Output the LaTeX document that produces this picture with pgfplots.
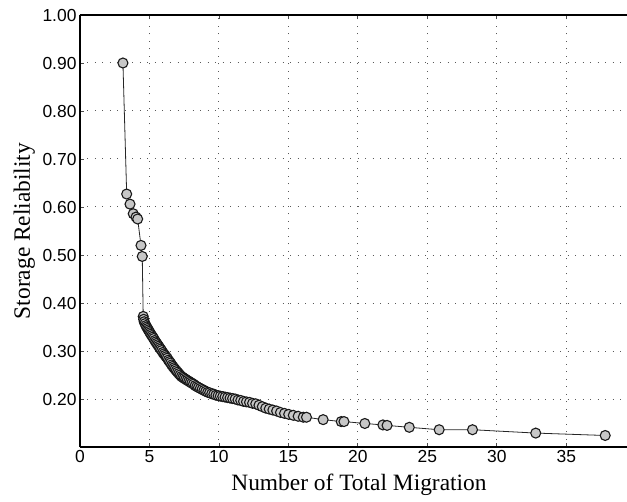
\documentclass[border=0pt]{standalone}
\usepackage{fontspec}
\setmainfont{Liberation Serif}
\newfontfamily\arialfont{Liberation Sans}
\usepackage{pgfplots}
\pgfplotsset{compat=1.18}
\begin{document}
\begin{tikzpicture}
\begin{axis}[
  scale only axis, width=547bp, height=432bp,
  xmin=0, xmax=39.37, ymin=0.1, ymax=1.0,
  axis x line=box, axis y line=left,
  axis line style={-, line width=1.4bp, black},
  xtick={0,5,10,15,20,25,30,35},
  ytick={0.2,0.3,0.4,0.5,0.6,0.7,0.8,0.9,1.0},
  tick align=inside, major tick length=4bp,
  tick style={line width=0.8bp, black!70},
  yticklabel style={/pgf/number format/fixed, /pgf/number format/fixed zerofill, /pgf/number format/precision=2},
  /pgf/number format/assume math mode=true,
  ticklabel style={font=\arialfont\fontsize{17.5}{17.5}\selectfont},
  grid=major,
  major grid style={black!65, dash pattern=on 1bp off 6.5bp, line width=1bp},
  xlabel={Number of Total Migration},
  ylabel={Storage Reliability},
  label style={font=\fontsize{23.5}{24}\selectfont},
  xlabel style={at={(axis description cs:0.51,0)}, anchor=base, yshift=-43bp},
  ylabel style={at={([xshift=-50bp]axis description cs:0,0.5)}, anchor=base},
]
\addplot[color=black!85, line width=0.8bp, mark=*, mark size=5bp,
  mark options={fill=black!22, draw=black!90, line width=1.1bp, solid}] coordinates {
(3.09,0.900) (3.36,0.627) (3.60,0.606) (3.83,0.586) (4.03,0.579) (4.15,0.575)
(4.39,0.520) (4.48,0.497)
(4.55,0.372) (4.58,0.366) (4.62,0.361) (4.68,0.357) (4.74,0.353) (4.80,0.350)
(4.86,0.347) (4.92,0.344) (4.98,0.341) (5.04,0.338) (5.10,0.335) (5.17,0.332)
(5.24,0.329) (5.31,0.326) (5.38,0.322) (5.45,0.319) (5.52,0.316) (5.59,0.313)
(5.66,0.310) (5.73,0.307) (5.80,0.304) (5.88,0.301) (5.96,0.297) (6.04,0.294)
(6.12,0.291) (6.20,0.288) (6.28,0.285) (6.36,0.281) (6.44,0.278) (6.52,0.275)
(6.60,0.271) (6.68,0.268) (6.76,0.265) (6.84,0.262) (6.93,0.259) (7.02,0.256)
(7.11,0.253) (7.20,0.250) (7.30,0.247) (7.40,0.245) (7.50,0.243) (7.61,0.241)
(7.72,0.239) (7.83,0.237) (7.94,0.235) (8.05,0.233) (8.17,0.231) (8.29,0.228)
(8.41,0.226) (8.53,0.224) (8.66,0.222) (8.79,0.220) (8.92,0.218) (9.05,0.216)
(9.19,0.214) (9.33,0.213) (9.48,0.211) (9.63,0.210) (9.78,0.208) (9.94,0.207)
(10.10,0.206) (10.27,0.205) (10.44,0.204) (10.62,0.203) (10.80,0.202) (10.98,0.201)
(11.17,0.200) (11.37,0.198) (11.57,0.197) (11.77,0.195) (11.98,0.194) (12.20,0.193)
(12.42,0.191) (12.65,0.190) (12.88,0.187) (13.12,0.184) (13.37,0.181) (13.62,0.179)
(13.88,0.177) (14.15,0.175) (14.43,0.172) (14.72,0.170) (15.02,0.168) (15.35,0.166)
(15.70,0.164) (16.07,0.162) (16.30,0.162) (17.50,0.157) (18.80,0.153) (19.00,0.153)
(20.50,0.149) (21.80,0.146) (22.10,0.145) (23.70,0.141) (25.85,0.136) (28.25,0.136)
(32.80,0.129) (37.80,0.124)
};
\end{axis}
\pgfresetboundingbox
\path[use as bounding box] (-80bp,-55bp) rectangle (547bp,447bp);
\end{tikzpicture}
\end{document}
